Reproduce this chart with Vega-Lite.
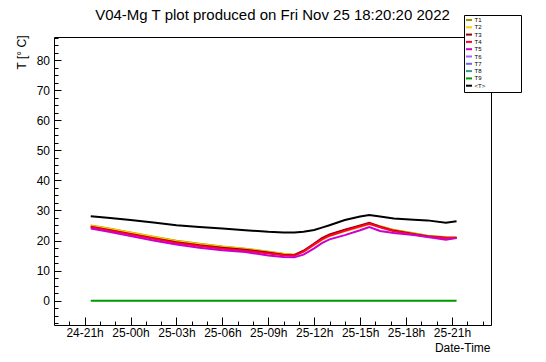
{
 "$schema": "https://vega.github.io/schema/vega-lite/v6.json",
 "width": 437, "height": 288,
 "autosize": {"type": "none"},
 "padding": {"left": 54, "top": 37, "right": 55, "bottom": 37},
 "background": "white",
 "title": {"text": "V04-Mg T plot produced on Fri Nov 25 18:20:20 2022", "fontSize": 15, "font": "Liberation Sans", "fontWeight": "normal", "color": "black", "frame": "group", "anchor": "middle", "baseline": "alphabetic", "offset": 17.5, "dy": 38},
 "data": {"values": [
  {"t":0.4,"T1":25.0,"T2":24.9,"T3":24.6,"T4":24.4,"T5":24.0,"T9":0,"<T>":28.1},
  {"t":1.5,"T1":24.1,"T2":24.0,"T3":23.6,"T4":23.4,"T5":23.0,"T9":0,"<T>":27.6},
  {"t":3,"T1":22.7,"T2":22.6,"T3":22.2,"T4":22.0,"T5":21.5,"T9":0,"<T>":26.8},
  {"t":4.5,"T1":21.3,"T2":21.2,"T3":20.8,"T4":20.6,"T5":20.0,"T9":0,"<T>":26.0},
  {"t":6,"T1":19.9,"T2":19.8,"T3":19.4,"T4":19.2,"T5":18.7,"T9":0,"<T>":25.1},
  {"t":7.5,"T1":18.9,"T2":18.8,"T3":18.4,"T4":18.2,"T5":17.6,"T9":0,"<T>":24.5},
  {"t":9,"T1":18.0,"T2":17.9,"T3":17.6,"T4":17.3,"T5":16.8,"T9":0,"<T>":24.0},
  {"t":10.5,"T1":17.3,"T2":17.2,"T3":16.9,"T4":16.6,"T5":16.2,"T9":0,"<T>":23.4},
  {"t":12,"T1":16.3,"T2":16.2,"T3":16.0,"T4":15.7,"T5":15.0,"T9":0,"<T>":22.9},
  {"t":13,"T1":15.6,"T2":15.5,"T3":15.3,"T4":15.1,"T5":14.5,"T9":0,"<T>":22.7},
  {"t":13.7,"T1":15.3,"T2":15.2,"T3":15.1,"T4":14.9,"T5":14.4,"T9":0,"<T>":22.7},
  {"t":14.3,"T1":16.5,"T2":16.2,"T3":16.6,"T4":16.3,"T5":15.3,"T9":0,"<T>":22.9},
  {"t":15,"T1":18.8,"T2":18.5,"T3":19.0,"T4":18.7,"T5":17.4,"T9":0,"<T>":23.5},
  {"t":15.5,"T1":20.5,"T2":20.2,"T3":20.8,"T4":20.4,"T5":19.1,"T9":0,"<T>":24.3},
  {"t":16,"T1":21.8,"T2":21.5,"T3":22.0,"T4":21.6,"T5":20.4,"T9":0,"<T>":25.1},
  {"t":17,"T1":23.4,"T2":23.1,"T3":23.6,"T4":23.2,"T5":21.8,"T9":0,"<T>":26.8},
  {"t":18,"T1":24.8,"T2":24.5,"T3":25.0,"T4":24.7,"T5":23.4,"T9":0,"<T>":28.0},
  {"t":18.6,"T1":25.7,"T2":25.4,"T3":25.9,"T4":25.6,"T5":24.5,"T9":0,"<T>":28.5},
  {"t":19.3,"T1":24.8,"T2":24.7,"T3":24.6,"T4":24.4,"T5":23.2,"T9":0,"<T>":28.0},
  {"t":20.2,"T1":23.5,"T2":23.4,"T3":23.3,"T4":23.1,"T5":22.5,"T9":0,"<T>":27.3},
  {"t":21.5,"T1":22.4,"T2":22.3,"T3":22.2,"T4":22.0,"T5":21.8,"T9":0,"<T>":26.9},
  {"t":22.4,"T1":21.6,"T2":21.5,"T3":21.4,"T4":21.3,"T5":21.2,"T9":0,"<T>":26.7},
  {"t":23.6,"T1":21.1,"T2":21.0,"T3":20.9,"T4":20.8,"T5":20.3,"T9":0,"<T>":25.9},
  {"t":24.3,"T1":21.0,"T2":20.9,"T3":20.9,"T4":20.8,"T5":20.8,"T9":0,"<T>":26.4}
 ]},
 "layer": [
  {
   "transform": [{"fold": ["T1","T2","T3","T4","T5","T9"], "as": ["s","v"]}],
   "mark": {"type": "line", "strokeWidth": 2},
   "encoding": {
    "x": {"field": "t", "type": "quantitative",
      "scale": {"domain": [-2, 26.55], "nice": false, "zero": false},
      "axis": {"orient": "bottom", "values": [0,3,6,9,12,15,18,21,24],
        "labelExpr": "(datum.value + 21 >= 24 ? '25' : '24') + '-' + (((datum.value + 21) % 24) < 10 ? '0' : '') + ((datum.value + 21) % 24) + 'h'",
        "tickSize": -8, "labelPadding": 10.5, "domain": false, "grid": false,
        "labelFlush": false, "labelOverlap": false,
        "title": "Date-Time", "titleAnchor": "end", "titleAlign": "right", "titleX": 436, "titleY": 26, "titleBaseline": "alphabetic"}},
    "y": {"field": "v", "type": "quantitative",
      "scale": {"domain": [-8.1, 87.7], "nice": false, "zero": false},
      "axis": {"orient": "left", "values": [0,10,20,30,40,50,60,70,80],
        "tickSize": -7, "labelPadding": 11.5, "domain": false, "grid": false,
        "labelFlush": false, "labelOverlap": false,
        "title": "T [° C]", "titleAngle": -90, "titleAlign": "right", "titleBaseline": "middle", "titleX": -33, "titleY": -2}},
    "color": {"field": "s", "type": "nominal",
      "scale": {"domain": ["T1","T2","T3","T4","T5","T6","T7","T8","T9","<T>"],
                "range": ["#999900","#ffcc00","#990000","#ff0033","#cc00cc","#9966ff","#6666ff","#339999","#009900","#000000"]},
      "legend": {"orient": "none", "legendX": 410, "legendY": -22, "title": null,
        "fillColor": "white", "strokeColor": "black", "padding": 2,
        "symbolType": "M-1.5,0H1.5", "symbolSize": 16, "symbolStrokeWidth": 2,
        "labelFontSize": 6, "labelOffset": 2.5, "rowPadding": -0.7,
        "labelExpr": "datum.label + '\u00a0\u00a0\u00a0\u00a0\u00a0\u00a0\u00a0\u00a0\u00a0\u00a0\u00a0\u00a0\u00a0\u00a0\u00a0\u00a0\u00a0\u00a0\u00a0\u00a0\u200b'"}}
   }
  },
  {
   "transform": [{"fold": ["<T>"], "as": ["s","v"]}],
   "mark": {"type": "line", "strokeWidth": 2},
   "encoding": {
    "x": {"field": "t", "type": "quantitative",
      "axis": {"orient": "bottom", "values": [-1,0,1,2,3,4,5,6,7,8,9,10,11,12,13,14,15,16,17,18,19,20,21,22,23,24,25,26],
        "tickSize": -4, "labels": false, "domain": false, "grid": false, "title": null}},
    "y": {"field": "v", "type": "quantitative",
      "axis": {"orient": "left", "values": [-7.5,-5,-2.5,0,2.5,5,7.5,10,12.5,15,17.5,20,22.5,25,27.5,30,32.5,35,37.5,40,42.5,45,47.5,50,52.5,55,57.5,60,62.5,65,67.5,70,72.5,75,77.5,80,82.5,85,87.5],
        "tickSize": -4, "labels": false, "domain": false, "grid": false, "title": null}},
    "color": {"field": "s", "type": "nominal"}
   }
  }
 ],
 "resolve": {"axis": {"x": "independent", "y": "independent"}},
 "config": {
  "font": "Liberation Sans",
  "view": {"stroke": "black", "strokeWidth": 1},
  "axis": {"tickColor": "black", "tickWidth": 1, "labelColor": "black", "labelFont": "Liberation Sans", "labelFontSize": 12, "titleColor": "black", "titleFont": "Liberation Sans", "titleFontSize": 12, "titleFontWeight": "normal"},
  "legend": {"labelFont": "Liberation Sans", "labelColor": "black"}
 }
}
